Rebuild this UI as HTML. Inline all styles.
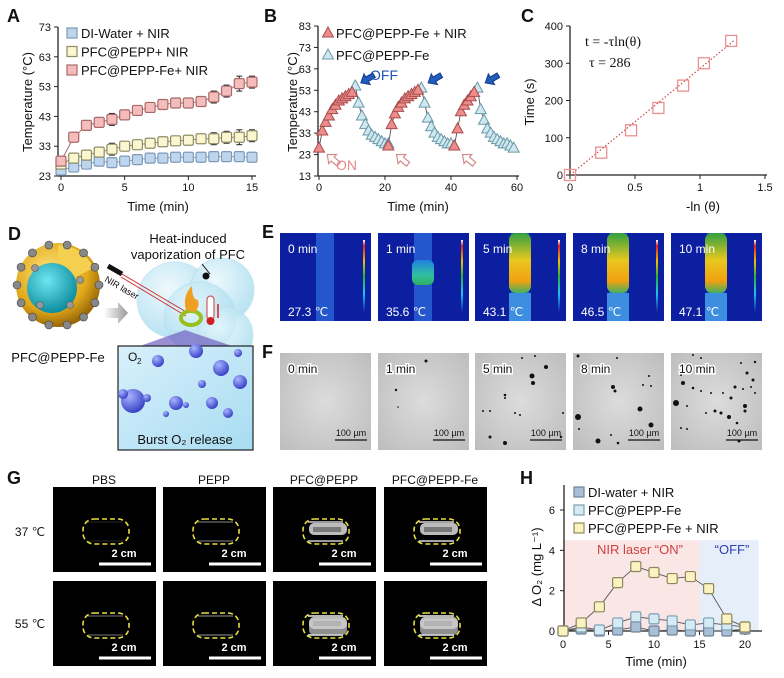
<!DOCTYPE html>
<html><head><meta charset="utf-8">
<style>
html,body{margin:0;padding:0;background:#fff;}
svg{display:block;font-family:"Liberation Sans",Arial,sans-serif;}
</style></head>
<body>
<svg id="fig" width="784" height="678" viewBox="0 0 784 678" xmlns="http://www.w3.org/2000/svg">
<defs>
  <radialGradient id="gold" cx="40%" cy="35%" r="65%"><stop offset="0" stop-color="#ffe27a"/><stop offset="0.7" stop-color="#e0a81a"/><stop offset="1" stop-color="#9a6a08"/></radialGradient>
  <radialGradient id="teal" cx="40%" cy="35%" r="65%"><stop offset="0" stop-color="#6fe6f0"/><stop offset="1" stop-color="#0e8ea0"/></radialGradient>
  <radialGradient id="bub" cx="40%" cy="35%" r="65%"><stop offset="0" stop-color="#eaf8fd"/><stop offset="1" stop-color="#a8dcef"/></radialGradient>
  <radialGradient id="o2" cx="35%" cy="30%" r="70%"><stop offset="0" stop-color="#a9b4ff"/><stop offset="1" stop-color="#3a44c8"/></radialGradient>
  <linearGradient id="boxbg" x1="0" y1="0" x2="1" y2="1"><stop offset="0" stop-color="#d8f0fb"/><stop offset="1" stop-color="#a8dcf2"/></linearGradient>
  <linearGradient id="cbar" x1="0" y1="0" x2="0" y2="1"><stop offset="0" stop-color="#fff"/><stop offset="0.08" stop-color="#e02020"/><stop offset="0.3" stop-color="#f0c000"/><stop offset="0.5" stop-color="#30b030"/><stop offset="0.75" stop-color="#20c0f0"/><stop offset="1" stop-color="#1020a0"/></linearGradient>
  <linearGradient id="hot" x1="0" y1="0" x2="0" y2="1"><stop offset="0" stop-color="#30a040"/><stop offset="0.45" stop-color="#e8c820"/><stop offset="0.8" stop-color="#f0a010"/><stop offset="1" stop-color="#40b060"/></linearGradient>
  <linearGradient id="warm" x1="0" y1="0" x2="0" y2="1"><stop offset="0" stop-color="#2080e0"/><stop offset="0.6" stop-color="#30c0a0"/><stop offset="1" stop-color="#30b060"/></linearGradient>
  <radialGradient id="micro" cx="50%" cy="50%" r="70%"><stop offset="0" stop-color="#dcdcdc"/><stop offset="1" stop-color="#bdbdbd"/></radialGradient>
  <linearGradient id="garrow" x1="0" y1="0" x2="1" y2="0"><stop offset="0" stop-color="#fff"/><stop offset="1" stop-color="#999"/></linearGradient>
</defs>
<g id="panels"></g>
</svg>
<script>
// ---------- Panel A data ----------
const aTime = [0,1,2,3,4,5,6,7,8,9,10,11,12,13,14,15];
const aDI   = [25,26,27,28,27.5,28,28.5,29,29,29.3,29.3,29.3,29.5,29.5,29.5,29.3];
const aPFC  = [27,29,30,31,32,33,33.5,34,34.5,34.8,35,35.5,35.5,36,36,36.5];
const aFe   = [28,36,40,41,42,43.5,45,46,47,47.5,47.5,48,49.5,51.5,54,54.5];
const aErr  = [1,1,1.5,1.5,2,1.5,1,1,1.5,1,1.5,1,2,2,2.5,2];
const aYTicks = [23,33,43,53,63,73];
const aXTicks = [0,5,10,15];
// ---------- Panel B data ----------
const bHeatStart = [0,21,41];
const bHeat = [[26,34,38,41,44,46,48,49,50,51,52],[27,37,42,45,47,49,50,51,52,53],[27,35,43,46,48,50,52]];
const bCoolStart = [11,31,48];
const bCool = [[55,47,41,37,34,32,31,30,29,28,28],[54,47,40,36,33,31,30,29,28,28,27],[54,44,39,35,33,31,30,29,28,28,27,26]];
const bYTicks = [13,23,33,43,53,63,73,83];
const bXTicks = [0,20,40,60];
// ---------- Panel C data ----------
const cX = [0,0.24,0.47,0.68,0.87,1.03,1.24];
const cY = [0,60,120,180,240,300,360];
const cYTicks = [0,100,200,300,400];
const cXTicks = [0,0.5,1,1.5];
const cFit = [0,1.26];
const cTau = 286;
// ---------- Panel H data ----------
const hTime = [0,2,4,6,8,10,12,14,16,18,20];
const hDI   = [0,0.1,0,0.05,0.2,0,0.05,0,0,0,0.1];
const hFe   = [0,0.2,0.05,0.4,0.7,0.6,0.5,0.3,0.4,0.3,0.2];
const hFeNIR= [0,0.4,1.2,2.4,3.2,2.9,2.6,2.7,2.1,0.6,0.2];
const hYTicks = [0,2,4,6];
const hXTicks = [0,5,10,15,20];

const NS = "http://www.w3.org/2000/svg";
const root = document.getElementById('panels');
function mk(tag, attrs, parent, text){
  const e = document.createElementNS(NS, tag);
  for (const k in attrs) e.setAttribute(k, attrs[k]);
  if (text !== undefined) e.textContent = text;
  (parent||root).appendChild(e);
  return e;
}
function grp(name, parent){
  const g = mk('g', {}, parent);
  
  
  return g;
}
function label(g, x, y, t, opt){
  const e = mk('text', Object.assign({x:x, y:y, 'font-size':13, fill:'#111'}, opt||{}), g, t);
  return e;
}

// ================= Panel A =================
(function(){
  const g = grp('panel-a');
  const X = t => 61 + t*(252-61)/15;
  const Y = v => 176 - (v-23)*149/50;
  const pl = label(g, 7, 22, 'A', {'font-size':18,'font-weight':'bold'});
   
  const ax = grp('a-axes', g);
  mk('line',{x1:58,y1:Y(73),x2:58,y2:176,stroke:'#222','stroke-width':1.3},ax);
  mk('line',{x1:58,y1:176,x2:256,y2:176,stroke:'#222','stroke-width':1.3},ax);
  aYTicks.forEach(v=>{ mk('line',{x1:54,y1:Y(v),x2:58,y2:Y(v),stroke:'#222'},ax);
    const t = label(ax, 51, Y(v)+4, v, {'font-size':11,'text-anchor':'end'});
      });
  aXTicks.forEach(v=>{ mk('line',{x1:X(v),y1:176,x2:X(v),y2:180,stroke:'#222'},ax);
    const t = label(ax, X(v), 191, v, {'font-size':11,'text-anchor':'middle'});
      });
  const xt = label(g, 158, 211, 'Time (min)', {'text-anchor':'middle'});
   
  const yt = label(g, 0, 0, 'Temperature (°C)', {'text-anchor':'middle',transform:'translate(32,102) rotate(-90)'});
   
  const series = [[aDI,'#bdd6ee','#7f9ab8','a-series-di-water'],[aPFC,'#fbf6cf','#8e8c62','a-series-pfc-pepp'],[aFe,'#f5bcbc','#a86a6a','a-series-pfc-pepp-fe']];
  series.forEach(s=>{
    const sg = grp(s[3], g);
    mk('polyline',{points:aTime.map((t,i)=>X(t)+','+Y(s[0][i])).join(' '),fill:'none',stroke:s[2],'stroke-width':1},sg);
    aTime.forEach((t,i)=>{
      const e = aErr[i]*(s[3]==='a-series-di-water'?0.5:1);
      mk('line',{x1:X(t),y1:Y(s[0][i]+e),x2:X(t),y2:Y(s[0][i]-e),stroke:'#222','stroke-width':1},sg);
      mk('line',{x1:X(t)-3,y1:Y(s[0][i]+e),x2:X(t)+3,y2:Y(s[0][i]+e),stroke:'#222','stroke-width':1},sg);
      mk('line',{x1:X(t)-3,y1:Y(s[0][i]-e),x2:X(t)+3,y2:Y(s[0][i]-e),stroke:'#222','stroke-width':1},sg);
      const r = mk('rect',{x:X(t)-5,y:Y(s[0][i])-5,width:10,height:10,rx:1.5,fill:s[1],stroke:s[2],'stroke-width':1.2},sg);
       
    });
  });
  const lg = grp('a-legend', g);
  const names = ['DI-Water + NIR','PFC@PEPP+ NIR','PFC@PEPP-Fe+ NIR'];
  series.forEach((s,i)=>{
    mk('rect',{x:67,y:28+i*18.5,width:10,height:10,fill:s[1],stroke:s[2],'stroke-width':1.2},lg);
    const t = label(lg, 81, 38+i*18.5, names[i], {'font-size':13});
     
  });
})();

// ================= Panel B =================
(function(){
  const g = grp('panel-b');
  const X = t => 319 + t*198/60;
  const Y = v => 176 - (v-13)*150/70;
  const pl = label(g, 264, 22, 'B', {'font-size':18,'font-weight':'bold'});
   
  const ax = grp('b-axes', g);
  mk('line',{x1:318,y1:Y(83),x2:318,y2:176,stroke:'#222','stroke-width':1.3},ax);
  mk('line',{x1:318,y1:176,x2:519,y2:176,stroke:'#222','stroke-width':1.3},ax);
  bYTicks.forEach(v=>{ mk('line',{x1:314,y1:Y(v),x2:318,y2:Y(v),stroke:'#222'},ax);
    const t = label(ax, 311, Y(v)+4, v, {'font-size':11,'text-anchor':'end'});
      });
  bXTicks.forEach(v=>{ mk('line',{x1:X(v),y1:176,x2:X(v),y2:180,stroke:'#222'},ax);
    const t = label(ax, X(v), 191, v, {'font-size':11,'text-anchor':'middle'});
      });
  const xt = label(g, 418, 211, 'Time (min)', {'text-anchor':'middle'});
   
  const yt = label(g, 0, 0, 'Temperature (°C)', {'text-anchor':'middle',transform:'translate(297,102) rotate(-90)'});
   
  // connecting line through all points
  let pts = [];
  for (let c=0;c<3;c++){
    bHeat[c].forEach((v,i)=>pts.push([bHeatStart[c]+i,v]));
    bCool[c].forEach((v,i)=>pts.push([bCoolStart[c]+i,v]));
  }
  pts.sort((a,b)=>a[0]-b[0]);
  const ln = mk('polyline',{points:pts.map(p=>X(p[0])+','+Y(p[1])).join(' '),fill:'none',stroke:'#555','stroke-width':0.9},g);
   
  function tri(gg,x,y,fill,stroke){
    const p = mk('polygon',{points:(x)+','+(y-6)+' '+(x-5.5)+','+(y+4)+' '+(x+5.5)+','+(y+4),fill:fill,stroke:stroke,'stroke-width':1},gg);
     
  }
  const cg = grp('b-series-pfc-pepp-fe', g);
  bCool.forEach((arr,c)=>arr.forEach((v,i)=>tri(cg,X(bCoolStart[c]+i),Y(v),'#cfe8f0','#6a98a8')));
  const hg = grp('b-series-pfc-pepp-fe-nir', g);
  bHeat.forEach((arr,c)=>arr.forEach((v,i)=>tri(hg,X(bHeatStart[c]+i),Y(v),'#ec8c8c','#a84c4c')));
  // arrows
  function arrow(gg,x,y,ang,fill,stroke){
    const a = mk('polygon',{points:'0,0 7,-6 7,-2.5 15,-2.5 15,2.5 7,2.5 7,6',fill:fill,stroke:stroke,'stroke-width':1.2,transform:'translate('+x+','+y+') rotate('+ang+')'},gg);
     
  }
  const ag = grp('b-arrows', g);
  [2.5,23.5,43.5].forEach(t=>arrow(ag,X(t),Y(23),40,'#fff','#d48a8a'));
  [11.8,32.2,49.5].forEach(t=>arrow(ag,X(t)+3,Y(56.5),-30,'#1f5fc0','#1a3f90'));
  const on = label(g, 336, 170, 'ON', {'font-size':14,fill:'#e88a8a'});
   
  const off = label(g, 370, 80, 'OFF', {'font-size':14,fill:'#2255b0'});
   
  const lg = grp('b-legend', g);
  tri(lg,328,33,'#ec8c8c','#a84c4c');
  tri(lg,328,55,'#cfe8f0','#6a98a8');
  const l1 = label(lg, 336, 38, 'PFC@PEPP-Fe + NIR', {'font-size':13});
   
  const l2 = label(lg, 336, 60, 'PFC@PEPP-Fe', {'font-size':13});
   
})();

// ================= Panel C =================
(function(){
  const g = grp('panel-c');
  const X = v => 570 + v*130;
  const Y = v => 175 - v*149/400;
  const pl = label(g, 521, 22, 'C', {'font-size':18,'font-weight':'bold'});
   
  const ax = grp('c-axes', g);
  mk('line',{x1:570,y1:Y(400),x2:570,y2:175,stroke:'#222','stroke-width':1.3},ax);
  mk('line',{x1:570,y1:175,x2:767,y2:175,stroke:'#222','stroke-width':1.3},ax);
  cYTicks.forEach(v=>{ mk('line',{x1:566,y1:Y(v),x2:570,y2:Y(v),stroke:'#222'},ax);
    const t = label(ax, 563, Y(v)+4, v, {'font-size':11,'text-anchor':'end'});
      });
  cXTicks.forEach(v=>{ mk('line',{x1:X(v),y1:175,x2:X(v),y2:179,stroke:'#222'},ax);
    const t = label(ax, X(v), 191, v, {'font-size':11,'text-anchor':'middle'});
      });
  const xt = label(g, 703, 211, '-ln (θ)', {'text-anchor':'middle'});
   
  const yt = label(g, 0, 0, 'Time (s)', {'text-anchor':'middle',transform:'translate(534,102) rotate(-90)'});
   
  const fit = mk('line',{x1:X(cFit[0]),y1:Y(cFit[0]*cTau),x2:X(cFit[1]),y2:Y(cFit[1]*cTau),stroke:'#d04848','stroke-width':1.2,'stroke-dasharray':'1.5,2'},g);
   
  const sg = grp('c-series', g);
  cX.forEach((v,i)=>{
    const r = mk('rect',{x:X(v)-5.5,y:Y(cY[i])-5.5,width:11,height:11,fill:'none',stroke:'#ea9090','stroke-width':1.3},sg);
     
  });
  const e1 = label(g, 585, 46, 't = -τln(θ)', {'font-size':14,'font-family':'"Liberation Serif",serif'});
   
  const e2 = label(g, 589, 67, 'τ = ' + cTau, {'font-size':14,'font-family':'"Liberation Serif",serif'});
   
})();

// ================= Panel D =================
(function(){
  const g = grp('panel-d');
  label(g, 8, 240, 'D', {'font-size':18,'font-weight':'bold'});
  // big bubbles
  [[175,300,38],[222,290,32],[200,318,36],[225,335,28]].forEach(b=>mk('circle',{cx:b[0],cy:b[1],r:b[2],fill:'url(#bub)',opacity:0.8,stroke:'#b8e2f2'},g));
  // particle
  mk('circle',{cx:58,cy:285,r:42,fill:'url(#gold)'},g);
  mk('path',{d:'M58,285 L58,245 A40,40 0 0 1 94,268 Z',fill:'#f5d050'},g);
  mk('circle',{cx:52,cy:288,r:25,fill:'url(#teal)'},g);
  for(let i=0;i<14;i++){const a=i/14*Math.PI*2; mk('circle',{cx:58+41*Math.cos(a),cy:285+41*Math.sin(a),r:4,fill:'#888',stroke:'#444','stroke-width':0.6},g);}
  [[35,268],[70,305],[40,305],[80,280]].forEach(p=>mk('circle',{cx:p[0],cy:p[1],r:3.5,fill:'#999',stroke:'#555','stroke-width':0.6},g));
  label(g, 58, 362, 'PFC@PEPP-Fe', {'font-size':13,'text-anchor':'middle'});
  mk('polygon',{points:'104,308 118,308 118,302 128,313 118,324 118,318 104,318',fill:'url(#garrow)'},g);
  // laser
  mk('line',{x1:108,y1:266,x2:122,y2:274,stroke:'#111','stroke-width':5},g);
  mk('line',{x1:122,y1:274,x2:188,y2:313,stroke:'#d03030','stroke-width':1},g);
  mk('line',{x1:121,y1:277,x2:186,y2:316,stroke:'#d03030','stroke-width':1},g);
  label(g, 0,0, 'NIR laser', {'font-size':9,transform:'translate(104,281) rotate(30)'});
  mk('ellipse',{cx:191,cy:318,rx:10,ry:7,fill:'none',stroke:'#9ac020','stroke-width':4},g);
  mk('path',{d:'M186,310 Q182,296 192,286 Q192,300 198,300 Q200,308 194,312 Z',fill:'#f0a020'},g);
  mk('rect',{x:207,y:296,width:7,height:24,rx:3.5,fill:'#fff',stroke:'#c04040'},g);
  mk('circle',{cx:210.5,cy:321,r:4,fill:'#d02020'},g);
  mk('line',{x1:218,y1:318,x2:218,y2:304,stroke:'#d02020','stroke-width':1.5},g);
  mk('line',{x1:210,y1:274,x2:202,y2:264,stroke:'#111'},g);
  mk('circle',{cx:206,cy:276,r:3.5,fill:'#111'},g);
  label(g, 188, 243, 'Heat-induced', {'font-size':13,'text-anchor':'middle'});
  label(g, 188, 259, 'vaporization of PFC', {'font-size':13,'text-anchor':'middle'});
  mk('polygon',{points:'185,330 140,346 232,346',fill:'#7060c0',opacity:0.7},g);
  const box = grp('d-burst-box', g);
  mk('rect',{x:118,y:346,width:135,height:104,fill:'url(#boxbg)',stroke:'#222','stroke-width':1.2},box);
  [[158,361,6],[196,351,7],[238,353,4],[221,368,8],[240,382,7],[133,401,12],[176,403,7],[212,403,6],[166,414,3],[147,398,4],[228,413,5],[202,384,4],[186,405,3],[123,394,5]].forEach(b=>mk('circle',{cx:b[0],cy:b[1],r:b[2],fill:'url(#o2)'},box));
  label(box, 128, 361, 'O', {'font-size':12});
  label(box, 137, 364, '2', {'font-size':8});
  label(box, 185, 444, 'Burst O₂ release', {'font-size':13,'text-anchor':'middle'});
})();

// ================= Panel E =================
(function(){
  const g = grp('panel-e');
  label(g, 262, 238, 'E', {'font-size':18,'font-weight':'bold'});
  const lefts = [280,378,475,573,671];
  const times = ['0 min','1 min','5 min','8 min','10 min'];
  const temps = ['27.3 ℃','35.6 ℃','43.1 ℃','46.5 ℃','47.1 ℃'];
  lefts.forEach((x,i)=>{
    const pg = grp('thermal-image', g);
    mk('rect',{x:x,y:233,width:91,height:88,fill:'#0c1fa0'},pg);
    mk('rect',{x:x+36,y:233,width:18,height:88,fill:'#2a64d8',opacity:0.8},pg);
    if(i===1) mk('rect',{x:x+34,y:260,width:22,height:25,rx:6,fill:'url(#warm)'},pg);
    if(i>=2){ mk('rect',{x:x+34,y:233,width:22,height:60,rx:7,fill:'url(#hot)'},pg); mk('rect',{x:x+34,y:293,width:22,height:28,fill:'#3d8ee0'},pg); }
    mk('rect',{x:x+83,y:240,width:2,height:72,fill:'url(#cbar)'},pg);
    label(pg, x+8, 253, times[i], {'font-size':12,fill:'#fff'});
    label(pg, x+8, 316, temps[i], {'font-size':12,fill:'#fff'});
  });
})();

// ================= Panel F =================
(function(){
  const g = grp('panel-f');
  label(g, 262, 358, 'F', {'font-size':18,'font-weight':'bold'});
  const lefts = [280,378,475,573,671];
  const times = ['0 min','1 min','5 min','8 min','10 min'];
  const dots = [[],[[48,8,1.5],[18,37,1.2],[20,54,0.8]],
    [[47,5,1],[60,3,1],[71,14,2],[57,23,2.5],[58,30,2],[30,42,1.3],[30,45,1],[8,58,1],[15,58,1],[40,60,1],[45,62,1],[15,84,1.5],[30,90,2],[88,60,1],[86,84,1.2]],
    [[5,3,1.5],[44,5,1],[19,20,1.5],[40,34,2],[42,38,1.5],[70,32,1],[78,33,1],[76,23,1],[67,56,2.5],[5,64,3],[78,72,2.5],[25,88,2.5],[38,82,1],[45,90,1.3],[6,76,1]],
    [[22,2,1],[30,5,1],[70,10,1],[84,9,1.2],[76,20,1.5],[82,27,1.5],[10,22,1],[12,30,2],[22,35,1.3],[30,38,1],[40,40,1],[52,40,1],[64,34,1.5],[60,45,1.5],[72,36,1],[80,34,1],[5,50,3],[16,53,1],[35,60,1],[44,58,1.5],[50,60,1.5],[58,64,2],[74,53,2],[74,58,1.5],[66,70,1.3],[10,75,1],[16,76,1],[68,88,1.5],[84,40,1]]];
  lefts.forEach((x,i)=>{
    const pg = grp('micrograph', g);
    mk('rect',{x:x,y:353,width:91,height:97,fill:'url(#micro)'},pg);
    dots[i].forEach(d=>mk('circle',{cx:x+d[0],cy:353+d[1],r:d[2],fill:'#111'},pg));
    label(pg, x+8, 373, times[i], {'font-size':12,fill:'#111',stroke:'#fff','stroke-width':3,'paint-order':'stroke'});
    mk('line',{x1:x+55,y1:440,x2:x+87,y2:440,stroke:'#111','stroke-width':1.2},pg);
    label(pg, x+71, 436, '100 µm', {'font-size':9,'text-anchor':'middle'});
  });
})();

// ================= Panel G =================
(function(){
  const g = grp('panel-g');
  label(g, 7, 484, 'G', {'font-size':18,'font-weight':'bold'});
  const lefts = [53,163,273,384];
  const heads = ['PBS','PEPP','PFC@PEPP','PFC@PEPP-Fe'];
  const tops = [487,581];
  heads.forEach((h,i)=>label(g, lefts[i]+51, 484, h, {'font-size':12,'text-anchor':'middle'}));
  label(g, 30, 536, '37 ℃', {'font-size':12,'text-anchor':'middle'});
  label(g, 30, 628, '55 ℃', {'font-size':12,'text-anchor':'middle'});
  const fill = [[0.1,0.35,0.8,0.85],[0.3,0.4,0.95,0.95]];
  tops.forEach((y,r)=>lefts.forEach((x,c)=>{
    const pg = grp('phantom-image', g);
    mk('rect',{x:x,y:y,width:103,height:85,fill:'#000'},pg);
    mk('line',{x1:x+35,y1:y+35,x2:x+70,y2:y+35,stroke:'#fff','stroke-width':1.5,opacity:fill[r][c]},pg);
    mk('line',{x1:x+35,y1:y+54,x2:x+70,y2:y+54,stroke:'#fff','stroke-width':1.5,opacity:fill[r][c]},pg);
    if(c>=2){ mk('rect',{x:x+36,y:y+36,width:38,height:12,rx:5,fill:'#ddd',opacity:0.85},pg);
      mk('rect',{x:x+40,y:y+40,width:28,height:5,fill:'#333',opacity:0.5},pg); }
    if(r===1 && c>=2) mk('rect',{x:x+36,y:y+38,width:38,height:16,rx:5,fill:'#ccc',opacity:0.7},pg);
    mk('rect',{x:x+30,y:y+32,width:46,height:25,rx:11,fill:'none',stroke:'#e8e040','stroke-width':1.6,'stroke-dasharray':'5,3'},pg);
    mk('line',{x1:x+46,y1:y+77,x2:x+98,y2:y+77,stroke:'#fff','stroke-width':3},pg);
    label(pg, x+71, y+70, '2 cm', {'font-size':11,'text-anchor':'middle',fill:'#fff','font-weight':'bold'});
  }));
})();

// ================= Panel H =================
(function(){
  const g = grp('panel-h');
  const X = t => 563 + t*(745-563)/20;
  const Y = v => 631 - v*(631-510)/6;
  const pl = label(g, 520, 484, 'H', {'font-size':18,'font-weight':'bold'});
   
  const on = mk('rect',{x:X(0),y:Y(4.5),width:X(15)-X(0),height:Y(0)-Y(4.5),fill:'#fbe6e6'},g);
   
  const off = mk('rect',{x:X(15),y:Y(4.5),width:X(21.5)-X(15),height:Y(0)-Y(4.5),fill:'#e6eefa'},g);
   
  const t1 = label(g, 640, 554, 'NIR laser “ON”', {'font-size':13,'text-anchor':'middle',fill:'#d04040'});
   
  const t2 = label(g, 732, 554, '“OFF”', {'font-size':13,'text-anchor':'middle',fill:'#3040b0'});
   
  const ax = grp('h-axes', g);
  mk('line',{x1:564,y1:485,x2:564,y2:631,stroke:'#222','stroke-width':1.3},ax);
  mk('line',{x1:564,y1:631,x2:762,y2:631,stroke:'#222','stroke-width':1.3},ax);
  hYTicks.forEach(v=>{ mk('line',{x1:560,y1:Y(v),x2:564,y2:Y(v),stroke:'#222'},ax);
    const t = label(ax, 555, Y(v)+4, v, {'font-size':11,'text-anchor':'end'});
      });
  hXTicks.forEach(v=>{ mk('line',{x1:X(v),y1:631,x2:X(v),y2:635,stroke:'#222'},ax);
    const t = label(ax, X(v), 648, v, {'font-size':11,'text-anchor':'middle'});
      });
  const xt = label(g, 656, 666, 'Time (min)', {'text-anchor':'middle'});
   
  const yt = label(g, 0, 0, 'Δ O₂ (mg L⁻¹)', {'text-anchor':'middle',transform:'translate(541,567) rotate(-90)'});
   
  const series = [[hDI,'#a9bfd6','#6d8299','h-series-di-water'],[hFe,'#d4ebf5','#7d9eb0','h-series-pfc-pepp-fe'],[hFeNIR,'#fbf3bf','#8e8660','h-series-pfc-pepp-fe-nir']];
  series.forEach(s=>{
    const sg = grp(s[3], g);
    mk('polyline',{points:hTime.map((t,i)=>X(t)+','+Y(s[0][i])).join(' '),fill:'none',stroke:'#555','stroke-width':0.9},sg);
    hTime.forEach((t,i)=>{
      const r = mk('rect',{x:X(t)-5,y:Y(s[0][i])-5,width:10,height:10,rx:1.5,fill:s[1],stroke:s[2],'stroke-width':1.2},sg);
       
    });
  });
  const lg = grp('h-legend', g);
  const names = ['DI-water + NIR','PFC@PEPP-Fe','PFC@PEPP-Fe + NIR'];
  series.forEach((s,i)=>{
    mk('rect',{x:574,y:487+i*18,width:10,height:10,fill:s[1],stroke:s[2],'stroke-width':1.2},lg);
    const t = label(lg, 588, 497+i*18, names[i], {'font-size':13});
     
  });
})();
</script>
</body></html>
